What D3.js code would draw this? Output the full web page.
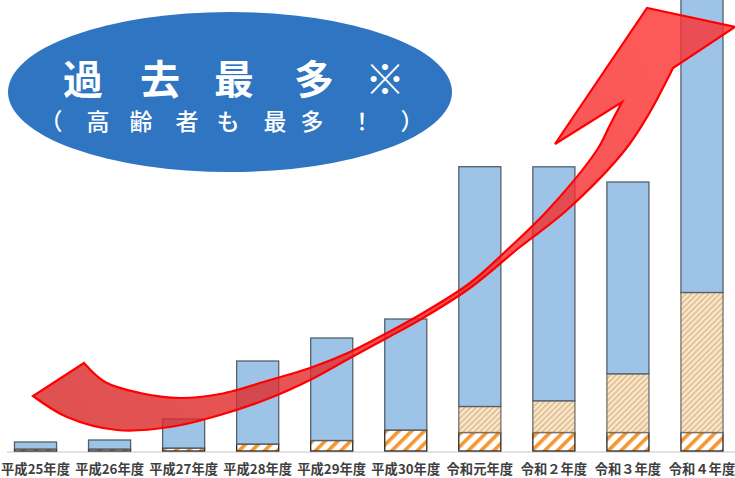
<!DOCTYPE html>
<html lang="ja">
<head>
  <meta charset="UTF-8">
  <title>過去最多</title>
  <script src="https://d3js.org/d3.v7.min.js"></script>
  <style>
    body { background: #fff; margin: 0; }
    svg { display: block; }
    .label { font-family: "Noto Sans CJK JP", sans-serif; font-weight: 700; font-size: 13.3px; fill: #3f3f3f; }
    .head1 { font-family: "Noto Sans CJK JP", sans-serif; font-weight: 700; font-size: 40px; fill: #fff; }
    .head2 { font-family: "Noto Sans CJK JP", sans-serif; font-weight: 500; font-size: 23px; fill: #fff; }
  </style>
</head>
<body>
<svg width="735" height="478"></svg>
<script>
// categories
const years = ["平成25年度", "平成26年度", "平成27年度", "平成28年度", "平成29年度",
               "平成30年度", "令和元年度", "令和２年度", "令和３年度", "令和４年度"];
// series (arbitrary units)
const baseVals = [2, 2, 3, 7, 10.5, 21, 18.5, 18.5, 18.5, 18.5];      // orange hatch
const midVals  = [0, 0, 0, 0, 0, 0, 26, 31.7, 58.7, 140];             // pale hatch
const topVals  = [7, 9, 29, 83, 102.5, 111, 239.8, 234, 191.8, 311.5]; // blue

const keys = ["base", "mid", "top"];
const table = years.map((y, i) => ({ year: y, base: baseVals[i], mid: midVals[i], top: topVals[i] }));

const svg = d3.select("svg");
const W = 735, H = 478;
const baseY = 451;

const x = d3.scaleBand()
  .domain(years)
  .range([-1.5, 739])
  .paddingInner(0.432)
  .paddingOuter(0.216);

const y = d3.scaleLinear()
  .domain([0, 451])
  .range([baseY, 0]);

// patterns
const defs = svg.append("defs");
const p1 = defs.append("pattern")
  .attr("id", "hatchOrange")
  .attr("patternUnits", "userSpaceOnUse")
  .attr("width", 9).attr("height", 9)
  .attr("patternTransform", "rotate(45)");
p1.append("rect").attr("width", 9).attr("height", 9).attr("fill", "#fff");
p1.append("rect").attr("width", 3.6).attr("height", 9).attr("fill", "#f5962e");

const p2 = defs.append("pattern")
  .attr("id", "hatchPale")
  .attr("patternUnits", "userSpaceOnUse")
  .attr("width", 4).attr("height", 4)
  .attr("patternTransform", "rotate(45)");
p2.append("rect").attr("width", 4).attr("height", 4).attr("fill", "#f7e8d0");
p2.append("rect").attr("width", 1.5).attr("height", 4).attr("fill", "#e0b884");

const grad = defs.append("linearGradient")
  .attr("id", "arrowGrad")
  .attr("gradientUnits", "userSpaceOnUse")
  .attr("x1", 30).attr("y1", 400).attr("x2", 700).attr("y2", 40);
grad.append("stop").attr("offset", 0).attr("stop-color", "rgb(214,38,38)");
grad.append("stop").attr("offset", 1).attr("stop-color", "rgb(255,48,48)");

// axis line
svg.append("line")
  .attr("x1", 7).attr("x2", W)
  .attr("y1", baseY + 1).attr("y2", baseY + 1)
  .attr("stroke", "#d9d9d9").attr("stroke-width", 1.5);

// stacked bars
const stacked = d3.stack().keys(keys)(table);
const fills = { base: "url(#hatchOrange)", mid: "url(#hatchPale)", top: "#9dc3e6" };
const strokes = { base: "#262626", mid: "#77706a", top: "#55606b" };

svg.append("g").selectAll("g")
  .data(stacked)
  .join("g")
  .selectAll("rect")
  .data(d => d.map(v => ({ key: d.key, v })))
  .join("rect")
  .filter(d => d.v[1] - d.v[0] > 0)
  .attr("x", d => x(d.v.data.year))
  .attr("y", d => y(d.v[1]))
  .attr("width", x.bandwidth())
  .attr("height", d => y(d.v[0]) - y(d.v[1]))
  .attr("fill", d => fills[d.key])
  .attr("stroke", d => strokes[d.key])
  .attr("stroke-width", 1.3);

// category labels
svg.append("g").selectAll("text")
  .data(years)
  .join("text")
  .attr("class", "label")
  .attr("x", d => x(d) + x.bandwidth() / 2)
  .attr("y", 474)
  .attr("text-anchor", "middle")
  .text(d => d);

// ribbon arrow
const lowerEdge = [[33,396],[67,417],[117,430],[170,427],[220,415],[270,398],[310,380],[350,358],
  [387,338],[423,318],[470,288],[520,247],[567,210],[625,150],[650,112],[667,80],[673,68]];
const upperEdge = [[622,102],[610,125],[597,150],[548,210],[507,250],[470,283],[423,313],[387,333],
  [350,352],[310,368],[270,380],[220,394],[180,398],[140,393],[105,382],[84,363]];
const edge = d3.line().curve(d3.curveCatmullRom.alpha(0.5));
const arrowPath = edge(lowerEdge)
  + "L735,27L647,8L555,144L622,102"
  + edge(upperEdge).replace(/^M/, "L")
  + "Z";
svg.append("path")
  .attr("d", arrowPath)
  .attr("fill", "url(#arrowGrad)")
  .attr("fill-opacity", 0.8)
  .attr("stroke", "#ff0000")
  .attr("stroke-width", 2.2)
  .attr("stroke-linejoin", "miter");

// callout
svg.append("ellipse")
  .attr("cx", 230).attr("cy", 92)
  .attr("rx", 222).attr("ry", 80)
  .attr("fill", "#2f75c1");

const line1 = ["過", "去", "最", "多", "※"];
const line1X = [83, 160, 234, 314, 385];
svg.append("g").selectAll("text")
  .data(line1)
  .join("text")
  .attr("class", "head1")
  .attr("x", (d, i) => line1X[i])
  .attr("y", 94)
  .attr("text-anchor", "middle")
  .text(d => d);

const line2 = ["（", "高", "齢", "者", "も", "最", "多", "！", "）"];
const line2X = [51, 98, 141, 187, 228, 275, 312, 362, 412];
svg.append("g").selectAll("text")
  .data(line2)
  .join("text")
  .attr("class", "head2")
  .attr("x", (d, i) => line2X[i])
  .attr("y", 130)
  .attr("text-anchor", "middle")
  .text(d => d);
</script>
</body>
</html>
